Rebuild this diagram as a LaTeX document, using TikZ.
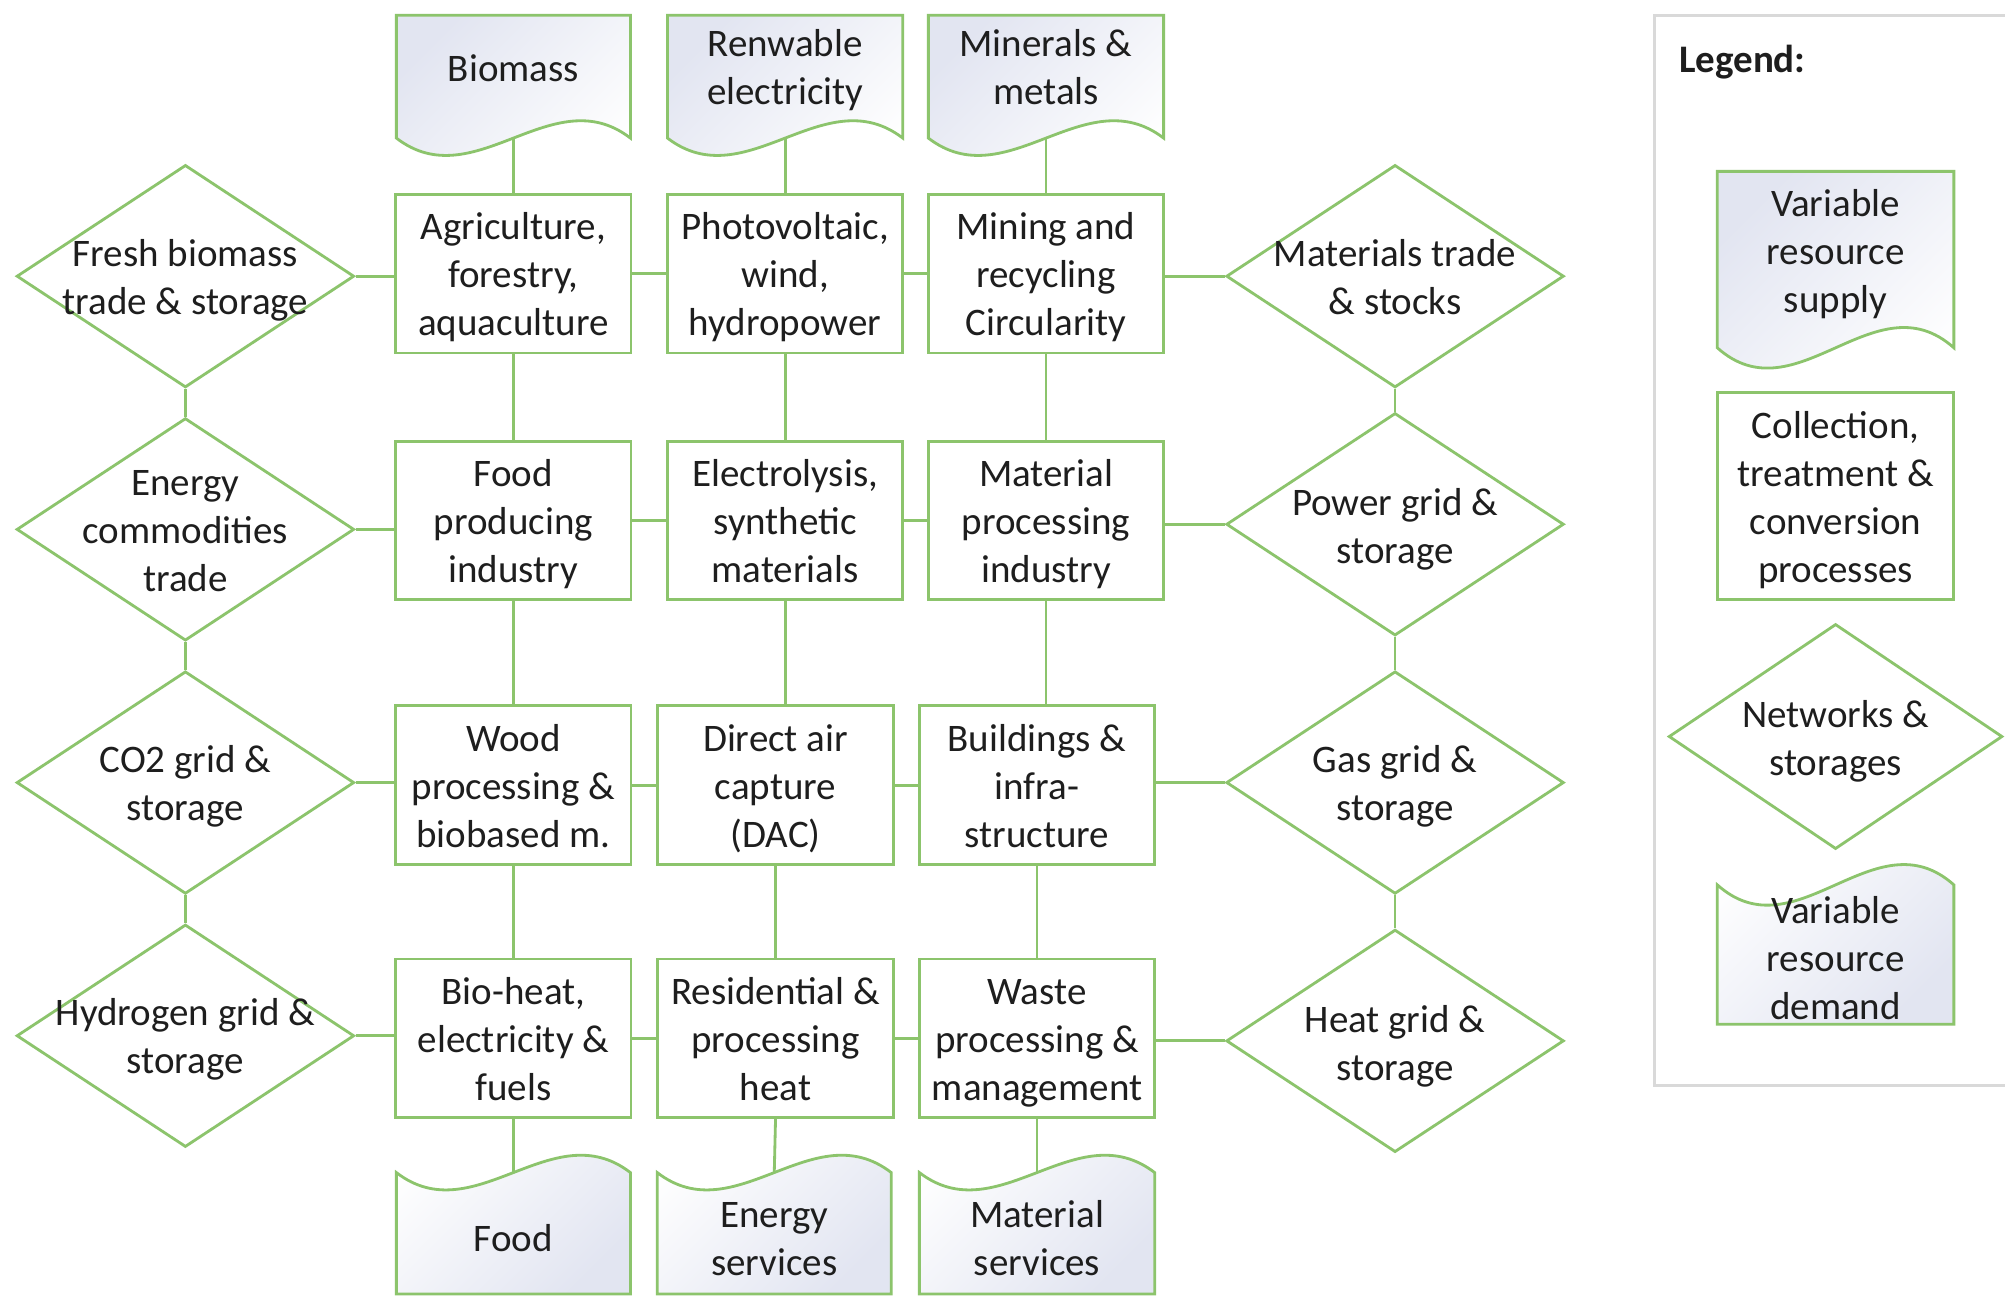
\documentclass[tikz,border=0pt]{standalone}
\usepackage{fontspec}
\setmainfont{Carlito}
\usetikzlibrary{shapes.geometric}
\definecolor{lgreen}{RGB}{140,196,108}
\definecolor{docblue}{RGB}{226,229,241}
\definecolor{txt}{RGB}{30,30,30}
\definecolor{lgray}{RGB}{217,217,217}
\newcommand\mystrut{\rule[-7pt]{0pt}{41pt}}
\newcommand\ts{\rule{0pt}{29pt}}
\tikzset{
  conn/.style={draw=lgreen, line width=2.2pt},
  docline/.style={draw=lgreen, line width=2.2pt},
  procbox/.style={draw=lgreen, line width=2.2pt, fill=white, rectangle, inner sep=0pt, align=center, text=txt},
  netdia/.style={draw=lgreen, line width=2.2pt, diamond, inner sep=0pt, minimum width=264pt, minimum height=174pt, fill=white},
  doctext/.style={align=center, text=txt, inner sep=0pt},
  strutted/.style={execute at begin node=\mystrut, execute at end node=\mystrut},
}
% supply document: L R T B (wave at bottom)
\newcommand\supplydoc[5]{%
  \shadedraw[docline, top color=docblue, middle color=white, bottom color=white, shading angle=45]
    (#1,#3) -- (#2,#3) -- (#2,#4)
    .. controls ({#2-(#2-#1)/3},{#4-#5}) and ({#1+(#2-#1)/3},{#4+#5}) .. (#1,#4) -- cycle;}
% demand document: L R T Bottom (wave at top)
\newcommand\demanddoc[5]{%
  \shadedraw[docline, top color=white, middle color=white, bottom color=docblue, shading angle=45]
    (#1,#3) .. controls ({#1+(#2-#1)/3},{#3+#5}) and ({#2-(#2-#1)/3},{#3-#5}) .. (#2,#3)
    -- (#2,#4) -- (#1,#4) -- cycle;}
\begin{document}
\begin{tikzpicture}[x=1pt, y=-1pt, font=\fontsize{30.5}{37.5}\selectfont, every node/.append style={strutted}]
\clip (0,0) rectangle (1568,1014);
\fill[white] (0,0) rectangle (1568,1014);

% ---------- legend frame ----------
\draw[lgray, line width=2pt] (1294,12) rectangle (1600,849);
\node[doctext, anchor=west, font=\fontsize{30.5}{37.5}\selectfont\bfseries] (legtitle) at (1313,43) {Legend:};

% ---------- top supply documents ----------
\supplydoc{310}{493}{12}{108}{47}
\supplydoc{522}{706}{12}{108}{47}
\supplydoc{726}{910}{12}{108}{47}
\coordinate (biow) at (401.5,108);
\coordinate (renw) at (614,108);
\coordinate (minw) at (818,108);
\node[doctext] (biomass) at (401.5,50) {Biomass};
\node[doctext] (renew) at (614,52) {\ts Renwable\\electricity};
\node[doctext] (minerals) at (818,52) {\ts Minerals \&\\metals};

% ---------- bottom demand documents ----------
\demanddoc{310}{493}{917}{1012}{47}
\demanddoc{514}{697}{917}{1012}{47}
\demanddoc{719}{903}{917}{1012}{47}
\coordinate (foodw) at (401.5,917);
\coordinate (enw) at (605.5,917);
\coordinate (matw) at (811,917);
\node[doctext] (food) at (401.5,965) {Food};
\node[doctext] (energy) at (605.5,968) {\ts Energy\\services};
\node[doctext] (matserv) at (811,968) {\ts Material\\services};

% ---------- process boxes ----------
\tikzset{r/.style={procbox, minimum width=184pt, minimum height=124pt}}
\node[r] (agri) at (401.5,214) {\ts Agriculture,\\forestry,\\aquaculture};
\node[r] (pv)   at (614,214)   {\ts Photovoltaic,\\wind,\\hydropower};
\node[r] (mine) at (818,214)   {\ts Mining and\\recycling\\Circularity};
\node[r] (foodind) at (401.5,407) {\ts Food\\producing\\industry};
\node[r] (elec) at (614,407)   {\ts Electrolysis,\\synthetic\\materials};
\node[r] (matp) at (818,407)   {\ts Material\\processing\\industry};
\node[r] (wood) at (401.5,614) {\ts Wood\\processing \&\\biobased m.};
\node[r] (dac)  at (606.5,614) {\ts Direct air\\capture\\(DAC)};
\node[r] (bldg) at (811,614)   {\ts Buildings \&\\infra-\\structure};
\node[r] (bioh) at (401.5,812) {\ts Bio-heat,\\electricity \&\\fuels};
\node[r] (res)  at (606.5,812) {\ts Residential \&\\processing\\heat};
\node[r] (waste) at (811,812)  {\ts Waste\\processing \&\\management};

% ---------- network diamonds ----------
\node[netdia] (d1) at (145,216) {};
\node[netdia] (d2) at (145,414) {};
\node[netdia] (d3) at (145,612) {};
\node[netdia] (d4) at (145,810) {};
\node[netdia] (e1) at (1091,216) {};
\node[netdia] (e2) at (1091,410) {};
\node[netdia] (e3) at (1091,612) {};
\node[netdia] (e4) at (1091,814) {};
\node[doctext] (d1t) at (145,216) {\ts Fresh biomass\\trade \& storage};
\node[doctext] (d2t) at (145,414) {\ts Energy\\commodities\\trade};
\node[doctext] (d3t) at (145,612) {\ts CO2 grid \&\\storage};
\node[doctext] (d4t) at (145,810) {\ts Hydrogen grid \&\\storage};
\node[doctext] (e1t) at (1091,216) {\ts Materials trade\\\& stocks};
\node[doctext] (e2t) at (1091,411) {\ts Power grid \&\\storage};
\node[doctext] (e3t) at (1091,612) {\ts Gas grid \&\\storage};
\node[doctext] (e4t) at (1091,815) {\ts Heat grid \&\\storage};

% ---------- connectors ----------
\draw[conn] (d1.south) -- (d2.north);
\draw[conn] (d2.south) -- (d3.north);
\draw[conn] (d3.south) -- (d4.north);
\draw[conn] (e1.south) -- (e2.north);
\draw[conn] (e2.south) -- (e3.north);
\draw[conn] (e3.south) -- (e4.north);
\draw[conn] (d1.east) -- (d1.east -| agri.west);
\draw[conn] (agri.east) -- (pv.west);
\draw[conn] (pv.east) -- (mine.west);
\draw[conn] (e1.west) -- (e1.west -| mine.east);
\draw[conn] (d2.east) -- (d2.east -| foodind.west);
\draw[conn] (foodind.east) -- (elec.west);
\draw[conn] (elec.east) -- (matp.west);
\draw[conn] (e2.west) -- (e2.west -| matp.east);
\draw[conn] (d3.east) -- (d3.east -| wood.west);
\draw[conn] (wood.east) -- (dac.west);
\draw[conn] (dac.east) -- (bldg.west);
\draw[conn] (e3.west) -- (e3.west -| bldg.east);
\draw[conn] (d4.east) -- (d4.east -| bioh.west);
\draw[conn] (bioh.east) -- (res.west);
\draw[conn] (res.east) -- (waste.west);
\draw[conn] (e4.west) -- (e4.west -| waste.east);
\draw[conn] (biow) -- (agri.north);
\draw[conn] (renw) -- (pv.north);
\draw[conn] (minw) -- (mine.north);
\draw[conn] (agri.south) -- (foodind.north);
\draw[conn] (pv.south) -- (elec.north);
\draw[conn] (mine.south) -- (matp.north);
\draw[conn] (foodind.south) -- (wood.north);
\draw[conn] (elec.south) -- (dac.north -| elec.south);
\draw[conn] (matp.south) -- (bldg.north -| matp.south);
\draw[conn] (wood.south) -- (bioh.north);
\draw[conn] (dac.south) -- (res.north);
\draw[conn] (bldg.south) -- (waste.north);
\draw[conn] (bioh.south) -- (foodw);
\draw[conn] (res.south) -- (enw);
\draw[conn] (waste.south) -- (matw);

% ---------- legend items ----------
\supplydoc{1343}{1528}{134}{272}{55}
\node[doctext] (lsupply) at (1435.5,196) {\ts Variable\\resource\\supply};
\node[procbox, minimum width=185pt, minimum height=162pt] (lproc) at (1435.5,388) {\ts Collection,\\treatment \&\\conversion\\processes};
\node[netdia, minimum width=261pt, minimum height=176pt] (lnet) at (1435.5,576) {};
\node[doctext] (lnett) at (1435.5,577) {\ts Networks \&\\storages};
\demanddoc{1343}{1528}{692}{801}{55}
\node[doctext] (ldemand) at (1435.5,749) {\ts Variable\\resource\\demand};
\end{tikzpicture}
\end{document}
